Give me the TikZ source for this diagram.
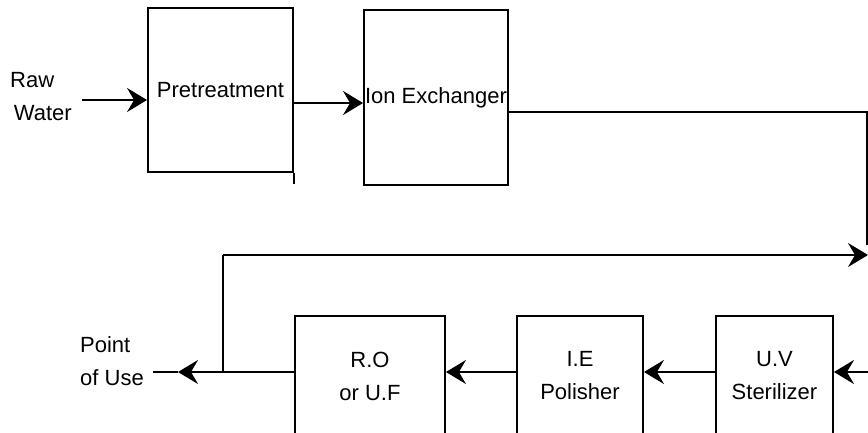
\documentclass[tikz,border=0pt]{standalone}
\usepackage{fontspec}
\setmainfont{Liberation Sans}
\usetikzlibrary{arrows.meta}
\begin{document}
\begin{tikzpicture}[x=1pt,y=-1pt,
  txt/.style={font=\fontsize{22}{33}\selectfont, inner sep=0pt},
  blk/.style={draw, line width=1.9pt, align=center, inner sep=0pt,
    font=\fontsize{22}{33}\selectfont},
  ln/.style={line width=1.8pt},
  arr/.style={line width=1.8pt, -{Stealth[length=20pt,width=24pt,inset=7pt]}}]
\useasboundingbox (0,0) rectangle (868,432);
% boxes
\node[blk, minimum width=145pt, minimum height=164pt] (pre) at (220.5,90) {Pretreatment};
\node[blk, minimum width=144pt, minimum height=175pt] (ion) at (436,97.5) {Ion Exchanger};
\node[blk, minimum width=150pt, minimum height=120pt] (ro) at (370,376) {R.O\\or U.F};
\node[blk, minimum width=126pt, minimum height=120pt] (ie) at (580,376) {I.E\\Polisher};
\node[blk, minimum width=117pt, minimum height=120pt] (uv) at (774.5,376) {U.V\\Sterilizer};
% labels
\node[txt, anchor=north west, align=left] (raw) at (10,72.5) {Raw\\\,Water};
\node[txt, anchor=north west, align=left] (pou) at (80,336.5) {Point\\of Use};
% coordinates
\coordinate (rawstart) at (82,100);
\coordinate (tr) at (867,112);
\coordinate (br) at (867,245);
\coordinate (loopend) at (868,255);
\coordinate (looptop) at (223,255);
\coordinate (j) at (223,372);
\coordinate (poutip) at (178,372);
\coordinate (pouend) at (153,372);
\coordinate (inright) at (868,372);
% connectors
\draw[arr] (rawstart) -- ([yshift=-10pt]pre.west);
\draw[ln] (pre.south east) -- ++(0,11);
\draw[arr] ([yshift=-13pt]pre.east) -- ([yshift=-13pt]pre.east -| ion.west);
\draw[ln] ([yshift=-14.5pt]ion.east) -- (tr) -- (br);
\draw[arr] (looptop) -- (loopend);
\draw[ln] (looptop) -- (j);
\draw[ln] ([yshift=4pt]ro.west) -- (j);
\draw[arr] (j) -- (poutip);
\draw[ln] (poutip) -- (pouend);
\draw[arr] ([yshift=4pt]ie.west) -- ([yshift=4pt]ro.east);
\draw[arr] ([yshift=4pt]uv.west) -- ([yshift=4pt]ie.east);
\draw[arr] (inright) -- ([yshift=4pt]uv.east);
\end{tikzpicture}
\end{document}
